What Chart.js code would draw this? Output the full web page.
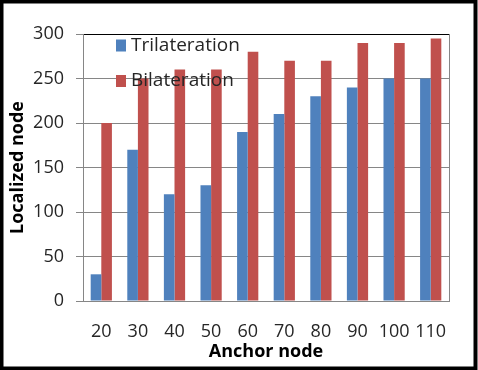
<!DOCTYPE html>
<html>
<head>
<meta charset="utf-8">
<script src="https://cdn.jsdelivr.net/npm/chart.js@4/dist/chart.umd.min.js"></script>
<style>
html,body{margin:0;padding:0;background:#fff;}
#wrap{width:478px;height:370px;position:relative;}
</style>
</head>
<body>
<div id="wrap"><canvas id="c" width="478" height="370"></canvas></div>
<script>
const categories = ["20","30","40","50","60","70","80","90","100","110"];
const trilateration = [30,170,120,130,190,210,230,240,250,250];
const bilateration = [200,250,260,260,280,270,270,290,290,295];
const yTicks = [0,50,100,150,200,250,300];
const seriesNames = ["Trilateration","Bilateration"];
const seriesColors = ["#4F81BD","#C0504D"];

const FONT = "'Open Sans', 'Liberation Sans', sans-serif";

const framePlugin = {
  id: 'frame',
  afterDraw(chart) {
    const ctx = chart.ctx;
    const a = chart.chartArea;
    ctx.save();
    // right border of plot area
    ctx.strokeStyle = '#868686';
    ctx.lineWidth = 1;
    ctx.beginPath();
    ctx.moveTo(Math.round(a.right) + 0.5, a.top);
    ctx.lineTo(Math.round(a.right) + 0.5, a.bottom);
    ctx.stroke();
    // legend inside plot
    const items = chart.data.datasets;
    const lx = 116, ys = [45.5, 81];
    ctx.font = "19px " + FONT;
    ctx.textBaseline = 'middle';
    items.forEach((ds, i) => {
      ctx.fillStyle = ds.backgroundColor;
      ctx.fillRect(lx, ys[i] - 6, 10, 12);
      ctx.fillStyle = '#262626';
      ctx.fillText(ds.label, lx + 15, ys[i]);
    });
    // outer frame
    ctx.strokeStyle = '#000';
    ctx.lineWidth = 4;
    ctx.strokeRect(1.5, 1.5, chart.width - 4, chart.height - 3);
    ctx.restore();
  }
};

new Chart(document.getElementById('c'), {
  type: 'bar',
  data: {
    labels: categories,
    datasets: [
      { label: seriesNames[0], data: trilateration, backgroundColor: seriesColors[0] },
      { label: seriesNames[1], data: bilateration, backgroundColor: seriesColors[1] }
    ]
  },
  options: {
    responsive: false,
    animation: false,
    layout: { padding: { left: 0, right: 29, top: 34, bottom: 7 } },
    plugins: { legend: { display: false }, tooltip: { enabled: false } },
    datasets: { bar: { categoryPercentage: 0.58, barPercentage: 1.0 } },
    scales: {
      x: {
        afterFit(scale) { scale.height = 62; },
        grid: { display: false, drawTicks: false },
        border: { color: '#868686' },
        ticks: { font: { family: FONT, size: 18 }, color: '#262626', padding: 20, maxRotation: 0, autoSkip: false },
        title: { display: true, text: 'Anchor node', font: { family: FONT, size: 18, weight: 'bold' }, color: '#000', padding: { top: 0, bottom: 0 } }
      },
      y: {
        min: 0, max: 300,
        afterBuildTicks(scale) { scale.ticks = yTicks.map(v => ({ value: v })); },
        afterFit(scale) { scale.width = 83; },
        grid: {
          color: ctx => (ctx.tick && ctx.tick.value === 300) ? '#000' : '#868686',
          tickLength: 7,
          tickColor: '#868686'
        },
        border: { color: '#868686' },
        ticks: { font: { family: FONT, size: 18 }, color: '#262626', padding: 12 },
        title: { display: true, text: 'Localized node', font: { family: FONT, size: 18, weight: 'bold' }, color: '#000', padding: { top: 7, bottom: 0 } }
      }
    }
  },
  plugins: [framePlugin]
});
</script>
</body>
</html>
